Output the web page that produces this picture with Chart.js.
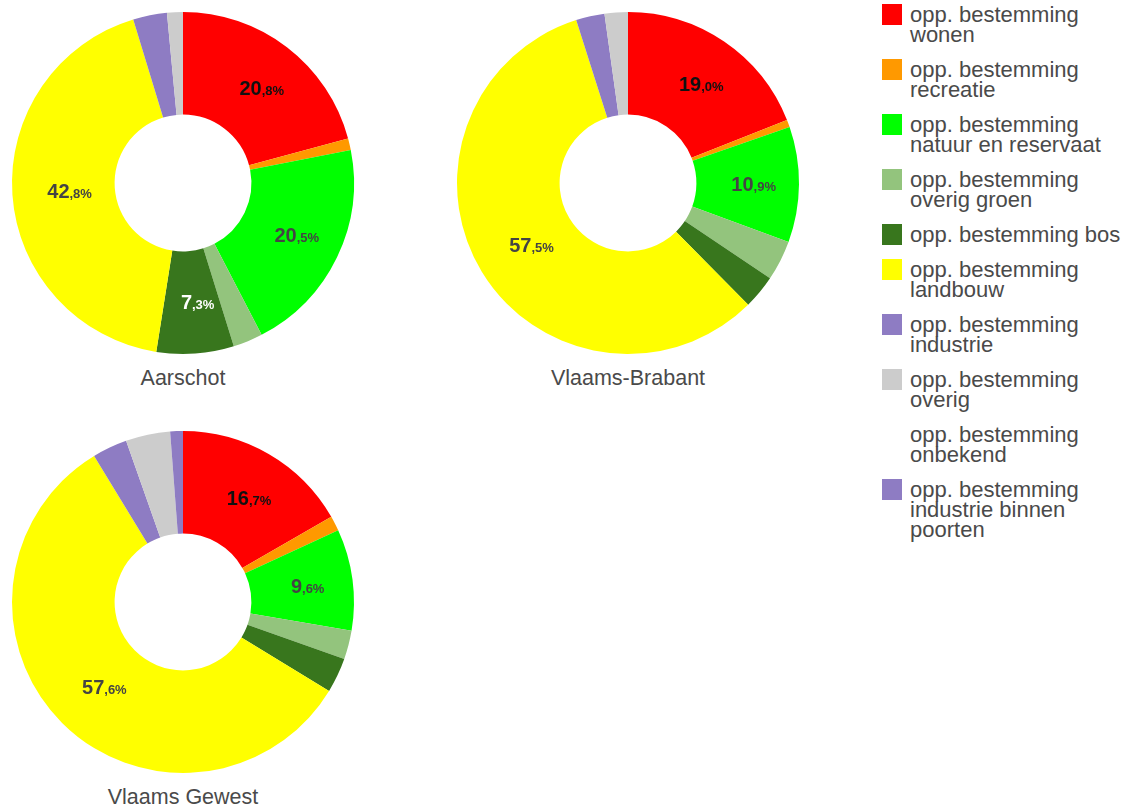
<!DOCTYPE html>
<html>
<head>
<meta charset="utf-8">
<script src="https://cdn.jsdelivr.net/npm/chart.js@4"></script>
<style>
  body { margin: 0; background: #fff; font-family: "Liberation Sans", Arial, sans-serif; }
  #wrap { position: relative; width: 1129px; height: 809px; overflow: hidden; }
  .pie { position: absolute; width: 366px; height: 366px; }
  .title { position: absolute; width: 366px; text-align: center; font-size: 21.5px; color: #4a4a4a; }
  #legend { position: absolute; left: 882px; top: 4px; width: 245px; }
  .item { display: flex; align-items: flex-start; margin-bottom: 14px; }
  .box { width: 20px; height: 21px; flex: none; margin-right: 8px; }
  .txt { width: 216px; font-size: 22px; line-height: 20px; color: #4a4a4a; padding-top: 1px; }
</style>
</head>
<body>
<div id="wrap">
  <div class="pie" style="left:0;top:0"><canvas id="c0"></canvas></div>
  <div class="title" style="left:0;top:366px">Aarschot</div>
  <div class="pie" style="left:445px;top:0"><canvas id="c1"></canvas></div>
  <div class="title" style="left:445px;top:366px">Vlaams-Brabant</div>
  <div class="pie" style="left:0;top:419px"><canvas id="c2"></canvas></div>
  <div class="title" style="left:0;top:785px">Vlaams Gewest</div>
  <div id="legend"></div>
</div>
<script>
// ===== Data (percent of surface per bestemming) =====
const categories = [
  "opp. bestemming wonen",
  "opp. bestemming recreatie",
  "opp. bestemming natuur en reservaat",
  "opp. bestemming overig groen",
  "opp. bestemming bos",
  "opp. bestemming landbouw",
  "opp. bestemming industrie",
  "opp. bestemming overig",
  "opp. bestemming onbekend",
  "opp. bestemming industrie binnen poorten"
];
const regions = ["Aarschot", "Vlaams-Brabant", "Vlaams Gewest"];
const aarschot = [20.8, 1.1, 20.5, 2.8, 7.3, 42.8, 3.2, 1.5, 0, 0];
const vlaamsBrabant = [19.0, 0.7, 10.9, 3.8, 3.2, 57.5, 2.7, 2.2, 0, 0];
const vlaamsGewest = [16.7, 1.4, 9.6, 2.7, 3.3, 57.6, 3.3, 4.2, 0, 1.2];

// ===== Styles =====
const sliceColors = ["#ff0000", "#ff9900", "#00ff00", "#93c47d", "#38761d",
                     "#ffff00", "#8e7cc3", "#cccccc", "#ffffff", "#8e7cc3"];
const labelColors = ["#111", "#333", "#444", "#444", "#fff",
                     "#444", "#333", "#333", "#333", "#333"];

// draws "20,8%" labels with a smaller decimal part
const sliceLabels = {
  id: "sliceLabels",
  afterDatasetsDraw(chart) {
    const ctx = chart.ctx;
    const meta = chart.getDatasetMeta(0);
    const values = chart.data.datasets[0].data;
    const total = values.reduce((a, b) => a + b, 0);
    meta.data.forEach((arc, i) => {
      const v = values[i];
      if (v / total < 0.05) return;
      const pos = arc.tooltipPosition();
      const parts = v.toFixed(1).split(".");
      const big = parts[0];
      const small = "," + parts[1] + "%";
      ctx.save();
      ctx.fillStyle = labelColors[i];
      ctx.textBaseline = "alphabetic";
      ctx.textAlign = "left";
      ctx.font = "bold 20px 'Liberation Sans', Arial";
      const wBig = ctx.measureText(big).width;
      ctx.font = "bold 13px 'Liberation Sans', Arial";
      const wSmall = ctx.measureText(small).width;
      const x0 = pos.x - (wBig + wSmall) / 2 + 6;
      const y0 = pos.y + 7;
      ctx.font = "bold 20px 'Liberation Sans', Arial";
      ctx.fillText(big, x0, y0);
      ctx.font = "bold 13px 'Liberation Sans', Arial";
      ctx.fillText(small, x0 + wBig, y0);
      ctx.restore();
    });
  }
};

function makeDonut(id, values) {
  new Chart(document.getElementById(id), {
    type: "doughnut",
    data: {
      labels: categories,
      datasets: [{
        data: values,
        backgroundColor: sliceColors,
        borderWidth: 0
      }]
    },
    options: {
      responsive: true,
      maintainAspectRatio: false,
      animation: false,
      cutout: "40%",
      layout: { padding: 12 },
      plugins: {
        legend: { display: false },
        tooltip: { enabled: false }
      }
    },
    plugins: [sliceLabels]
  });
}

makeDonut("c0", aarschot);
makeDonut("c1", vlaamsBrabant);
makeDonut("c2", vlaamsGewest);

// ===== HTML legend =====
const legend = document.getElementById("legend");
categories.forEach((name, i) => {
  const item = document.createElement("div");
  item.className = "item";
  const box = document.createElement("div");
  box.className = "box";
  box.style.background = sliceColors[i];
  const txt = document.createElement("div");
  txt.className = "txt";
  txt.textContent = name;
  item.appendChild(box);
  item.appendChild(txt);
  legend.appendChild(item);
});
</script>
</body>
</html>
